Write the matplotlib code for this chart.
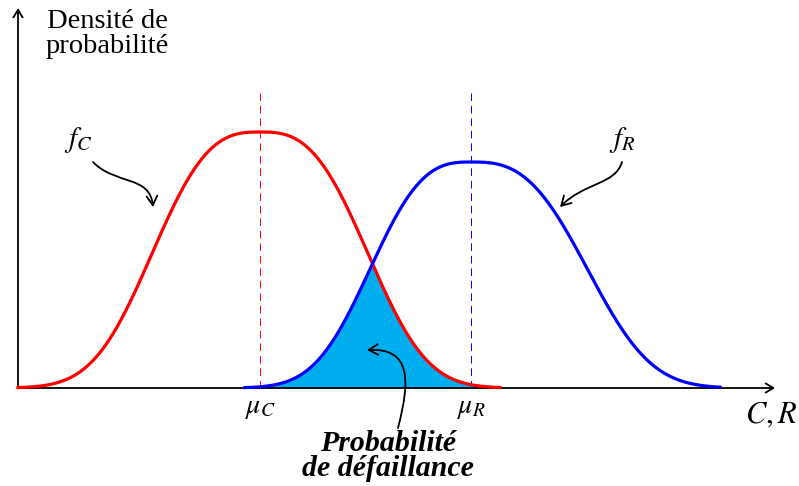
import numpy as np
import matplotlib.pyplot as plt
from matplotlib.patches import FancyArrowPatch
from matplotlib.path import Path

plt.rcParams['mathtext.fontset'] = 'stix'
plt.rcParams['font.family'] = ['Liberation Serif', 'DejaVu Serif']
plt.rcParams['lines.scale_dashes'] = False

# paramètres des deux densités
mu_C = 2.42
mu_R = 4.53
pic_C = 2.56
pic_R = 2.26
largeur_C = (1.26, 1.26)      # (gauche, droite)
largeur_R = (1.18, 1.36)
exposant = 2.85
domaine_C = (0.0, 4.82)
domaine_R = (2.27, 7.02)

x_max = 7.57
y_max = 3.80
haut_tirets = 2.95

rouge = '#FF0000'
bleu = '#0000FF'
cyan = '#00AEEF'


def densite(x, mu, pic, largeurs):
    a = np.where(x < mu, largeurs[0], largeurs[1])
    return pic * np.exp(-np.abs((x - mu) / a) ** exposant)


fig = plt.figure(figsize=(7.99, 4.86), dpi=100)
ax = fig.add_axes([0, 0, 1, 1])
ax.set_xlim(-0.18, 7.81)
ax.set_ylim(-0.98, 3.88)
ax.axis('off')

xc = np.linspace(*domaine_C, 400)
xr = np.linspace(*domaine_R, 400)
yc = densite(xc, mu_C, pic_C, largeur_C)
yr = densite(xr, mu_R, pic_R, largeur_R)

# zone de défaillance
xf = np.linspace(domaine_R[0], domaine_C[1], 400)
yf = np.minimum(densite(xf, mu_C, pic_C, largeur_C),
                densite(xf, mu_R, pic_R, largeur_R))
ax.fill_between(xf, 0, yf, color=cyan, lw=0, zorder=1)

# axes
fleche_axe = dict(arrowstyle='->,head_length=0.5,head_width=0.3',
                  mutation_scale=11, lw=1.3, color='black',
                  shrinkA=0, shrinkB=0)
ax.annotate('', xy=(x_max, 0), xytext=(0, 0), arrowprops=fleche_axe, zorder=2)
ax.annotate('', xy=(0, y_max), xytext=(0, 0), arrowprops=fleche_axe, zorder=2)

# moyennes
ax.plot([mu_C, mu_C], [0, haut_tirets], color=rouge, lw=0.7,
        dashes=(5.5, 3.5), zorder=2)
ax.plot([mu_R, mu_R], [0, haut_tirets], color=bleu, lw=0.7,
        dashes=(5.5, 3.5), zorder=2)

ax.plot(xc, yc, color=rouge, lw=2.3, zorder=3)
ax.plot(xr, yr, color=bleu, lw=2.3, zorder=4)

# textes
ax.text(0.895, 3.79, 'Densité de\nprobabilité', fontsize=20.5, ha='center',
        va='top', linespacing=1.0)
ax.text(0.60, 2.48, r'$f_C$', fontsize=21, ha='center', va='center')
ax.text(6.04, 2.48, r'$f_R$', fontsize=21, ha='center', va='center')
ax.text(mu_C, -0.08, r'$\mu_C$', fontsize=20, ha='center', va='top')
ax.text(mu_R, -0.08, r'$\mu_R$', fontsize=20, ha='center', va='top')
ax.text(7.79, -0.35, r'$C,R$', fontsize=22, ha='right', va='baseline')
ax.text(3.70, -0.42, 'Probabilité\nde défaillance', fontsize=21.5,
        fontweight='bold', style='italic', ha='center', va='top',
        linespacing=0.92)

# flèches courbes
codes = [Path.MOVETO, Path.CURVE4, Path.CURVE4, Path.CURVE4]
chemins = [
    [(0.75, 2.26), (0.97, 2.03), (1.32, 2.13), (1.35, 1.81)],
    [(6.04, 2.26), (5.97, 2.03), (5.67, 2.06), (5.42, 1.81)],
    [(3.80, -0.40), (3.93, 0.10), (3.92, 0.40), (3.49, 0.38)],
]
for pts in chemins:
    fl = FancyArrowPatch(path=Path(pts, codes),
                         arrowstyle='->,head_length=0.55,head_width=0.32',
                         mutation_scale=12, lw=1.3, color='black', zorder=5)
    ax.add_patch(fl)

fig.savefig('out.png', dpi=100)
